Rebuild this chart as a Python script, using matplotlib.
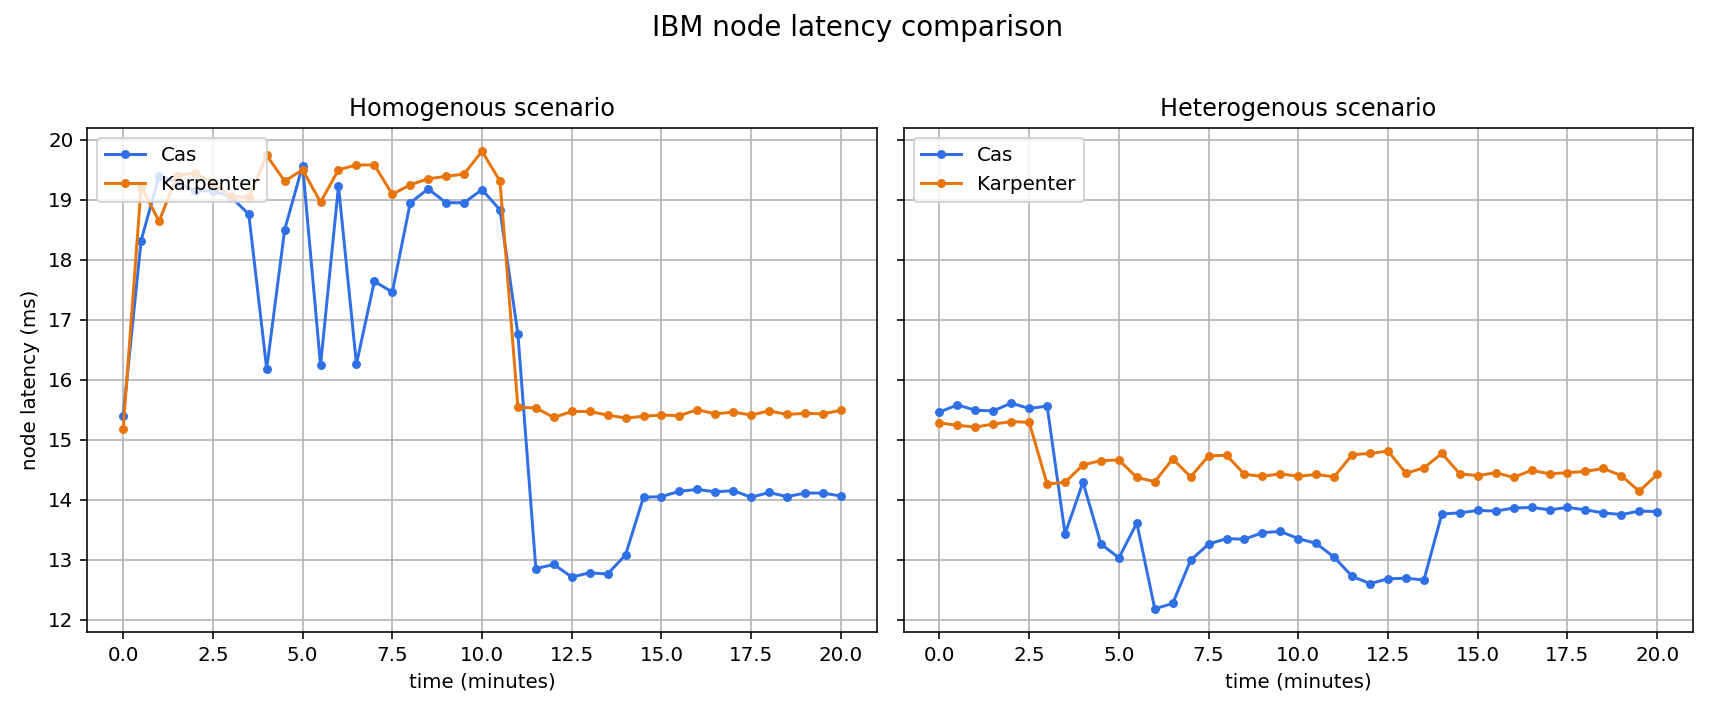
import matplotlib
matplotlib.use("Agg")
import matplotlib.pyplot as plt

# time axis, one sample every 30 s
time_min = [i * 0.5 for i in range(41)]

# homogenous scenario
homo_cas = [15.40, 18.32, 19.40, 19.30, 19.14, 19.15, 19.05, 18.76, 16.18, 18.50,
            19.57, 16.24, 19.23, 16.26, 17.64, 17.46, 18.95, 19.18, 18.95, 18.95,
            19.17, 18.83, 16.76, 12.85, 12.92, 12.71, 12.78, 12.76, 13.08, 14.04,
            14.05, 14.14, 14.17, 14.13, 14.15, 14.04, 14.12, 14.05, 14.11, 14.11,
            14.06]
homo_karp = [15.17, 19.22, 18.64, 19.40, 19.45, 19.28, 19.06, 19.04, 19.74, 19.31,
             19.50, 18.96, 19.50, 19.58, 19.58, 19.09, 19.25, 19.35, 19.39, 19.43,
             19.81, 19.31, 15.54, 15.53, 15.37, 15.47, 15.47, 15.41, 15.36, 15.39,
             15.41, 15.40, 15.50, 15.43, 15.46, 15.41, 15.48, 15.42, 15.44, 15.43,
             15.49]

# heterogenous scenario
hetero_cas = [15.46, 15.58, 15.49, 15.48, 15.61, 15.52, 15.56, 13.43, 14.29, 13.26,
              13.03, 13.61, 12.18, 12.27, 12.99, 13.26, 13.35, 13.34, 13.45, 13.47,
              13.35, 13.27, 13.04, 12.72, 12.60, 12.68, 12.69, 12.66, 13.76, 13.78,
              13.82, 13.81, 13.86, 13.87, 13.83, 13.87, 13.83, 13.78, 13.75, 13.81,
              13.80]
hetero_karp = [15.28, 15.24, 15.21, 15.26, 15.30, 15.29, 14.26, 14.29, 14.58, 14.65,
               14.66, 14.37, 14.30, 14.68, 14.38, 14.73, 14.74, 14.42, 14.39, 14.43,
               14.39, 14.42, 14.38, 14.75, 14.77, 14.81, 14.44, 14.53, 14.77, 14.43,
               14.40, 14.45, 14.37, 14.49, 14.43, 14.45, 14.47, 14.52, 14.40, 14.14,
               14.42]

cas_color = '#3070e6'
karp_color = '#e8740c'

fig, axes = plt.subplots(1, 2, figsize=(1715 / 143, 714 / 143), dpi=143, sharey=True)
fig.subplots_adjust(left=0.0509, right=0.9872, bottom=0.1153, top=0.8203, wspace=0.034)

panels = [("Homogenous scenario", homo_cas, homo_karp),
          ("Heterogenous scenario", hetero_cas, hetero_karp)]

for ax, (title, cas, karp) in zip(axes, panels):
    ax.plot(time_min, cas, marker='o', markersize=3.5, linewidth=1.5, color=cas_color, label='Cas')
    ax.plot(time_min, karp, marker='o', markersize=3.5, linewidth=1.5, color=karp_color, label='Karpenter')
    ax.set_title(title)
    ax.set_xlabel('time (minutes)')
    ax.grid(True)
    ax.legend(loc='upper left')

axes[0].set_ylabel('node latency (ms)')
fig.suptitle('IBM node latency comparison', fontsize=14)

fig.savefig('out.png', dpi=143)
